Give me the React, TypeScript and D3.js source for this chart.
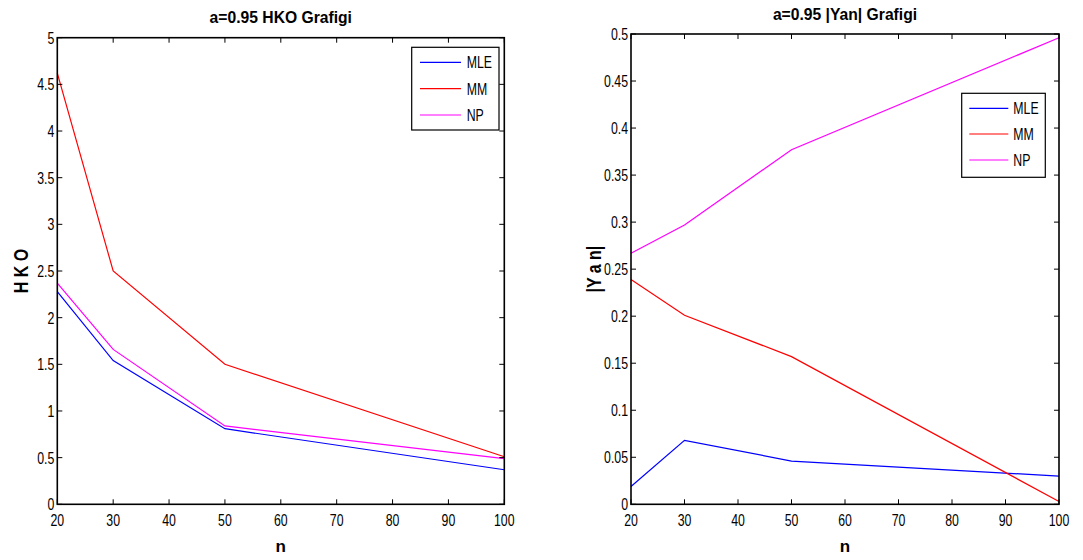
import React from "react";
import * as d3 from "d3";

const nValues = [20, 30, 50, 100];
const seriesNames = ["MLE", "MM", "NP"];
const seriesColors = ["#0000ff", "#ff0000", "#ff00ff"];

const hkoMLE = [2.28, 1.54, 0.81, 0.37];
const hkoMM = [4.62, 2.5, 1.5, 0.51];
const hkoNP = [2.37, 1.66, 0.84, 0.49];

const yanMLE = [0.019, 0.068, 0.046, 0.03];
const yanMM = [0.239, 0.201, 0.157, 0.003];
const yanNP = [0.267, 0.297, 0.377, 0.496];

const xTicks = [20, 30, 40, 50, 60, 70, 80, 90, 100];
const hkoTicks = [0, 0.5, 1, 1.5, 2, 2.5, 3, 3.5, 4, 4.5, 5];
const yanTicks = [0, 0.05, 0.1, 0.15, 0.2, 0.25, 0.3, 0.35, 0.4, 0.45, 0.5];

const FONT = "'Liberation Sans', Arial, Helvetica, sans-serif";
const SX = 0.77;

type Box = { left: number; right: number; top: number; bottom: number };
type LegendBox = { x0: number; x1: number; y0: number; y1: number; rows: number[]; lx0: number; lx1: number; tx: number };

function CText(props: { x: number; y: number; anchor?: string; size?: number; bold?: boolean; sx?: number; sy?: number; rotate?: number; children: React.ReactNode }) {
  const { x, y, anchor = "start", size = 16, bold = false, sx = SX, sy = 1, rotate = 0 } = props;
  return (
    <text
      transform={`translate(${x},${y}) rotate(${rotate}) scale(${sx},${sy})`}
      textAnchor={anchor}
      fontFamily={FONT}
      fontSize={size}
      fontWeight={bold ? "bold" : "normal"}
      fill="#000"
    >
      {props.children}
    </text>
  );
}

function Panel(props: {
  box: Box;
  yDomain: [number, number];
  yTicks: number[];
  data: number[][];
  title: string;
  titleY: number;
  ylabel: string;
  ylabelX: number;
  legend: LegendBox;
}) {
  const { box, yDomain, yTicks, data, title, titleY, ylabel, ylabelX, legend } = props;
  const x = d3.scaleLinear().domain([20, 100]).range([box.left, box.right]);
  const y = d3.scaleLinear().domain(yDomain).range([box.bottom, box.top]);
  const line = d3
    .line<number>()
    .x((_, i) => x(nValues[i]))
    .y((d) => y(d));
  const tl = 5;
  const fmt = (v: number) => String(+v.toFixed(2));
  const cx = (box.left + box.right) / 2;
  const cy = (box.top + box.bottom) / 2;
  return (
    <g>
      <rect x={box.left} y={box.top} width={box.right - box.left} height={box.bottom - box.top} fill="#fff" />
      {data.map((s, i) => (
        <path key={i} d={line(s) || ""} fill="none" stroke={seriesColors[i]} strokeWidth={1.2} />
      ))}
      {xTicks.map((t) => (
        <g key={"x" + t}>
          <line x1={x(t)} x2={x(t)} y1={box.bottom} y2={box.bottom - tl} stroke="#000" strokeWidth={1} />
          <line x1={x(t)} x2={x(t)} y1={box.top} y2={box.top + tl} stroke="#000" strokeWidth={1} />
          <CText x={x(t)} y={box.bottom + 22} anchor="middle">{String(t)}</CText>
        </g>
      ))}
      {yTicks.map((t) => (
        <g key={"y" + t}>
          <line x1={box.left} x2={box.left + tl} y1={y(t)} y2={y(t)} stroke="#000" strokeWidth={1} />
          <line x1={box.right} x2={box.right - tl} y1={y(t)} y2={y(t)} stroke="#000" strokeWidth={1} />
          <CText x={box.left - 3} y={y(t) + 6} anchor="end">{fmt(t)}</CText>
        </g>
      ))}
      <rect x={box.left} y={box.top} width={box.right - box.left} height={box.bottom - box.top} fill="none" stroke="#000" strokeWidth={1.6} />
      <CText x={cx} y={titleY} anchor="middle" bold sx={0.98}>{title}</CText>
      <CText x={cx} y={box.bottom + 48} anchor="middle" bold sx={1} size={17}>n</CText>
      <CText x={ylabelX} y={cy} anchor="middle" bold sx={1} sy={1.3} rotate={-90}>{ylabel}</CText>
      <rect x={legend.x0} y={legend.y0} width={legend.x1 - legend.x0} height={legend.y1 - legend.y0} fill="#fff" stroke="#000" strokeWidth={1.2} />
      {seriesNames.map((nm, i) => (
        <g key={nm}>
          <line x1={legend.lx0} x2={legend.lx1} y1={legend.rows[i]} y2={legend.rows[i]} stroke={seriesColors[i]} strokeWidth={1.2} />
          <CText x={legend.tx} y={legend.rows[i] + 6}>{nm}</CText>
        </g>
      ))}
    </g>
  );
}

export default function App() {
  return (
    <svg
      width={1083}
      height={560}
      style={{ position: "absolute", left: 0, top: 0, display: "block", background: "#fff" }}
    >
      <rect x={0} y={0} width={1083} height={560} fill="#fff" />
      <Panel
        box={{ left: 57.3, right: 504.3, top: 37.7, bottom: 504.3 }}
        yDomain={[0, 5]}
        yTicks={hkoTicks}
        data={[hkoMLE, hkoMM, hkoNP]}
        title="a=0.95 HKO Grafigi"
        titleY={23}
        ylabel="H K O"
        ylabelX={28}
        legend={{ x0: 411.7, x1: 499, y0: 47.3, y1: 130, rows: [62.3, 88.7, 115], lx0: 420, lx1: 461, tx: 466.7 }}
      />
      <Panel
        box={{ left: 631, right: 1059, top: 34, bottom: 504.3 }}
        yDomain={[0, 0.5]}
        yTicks={yanTicks}
        data={[yanMLE, yanMM, yanNP]}
        title="a=0.95 |Yan| Grafigi"
        titleY={20}
        ylabel="|Y a n|"
        ylabelX={601}
        legend={{ x0: 961.7, x1: 1045.3, y0: 93.3, y1: 177.3, rows: [108.3, 134, 160], lx0: 969.3, lx1: 1008.3, tx: 1013.3 }}
      />
    </svg>
  );
}
